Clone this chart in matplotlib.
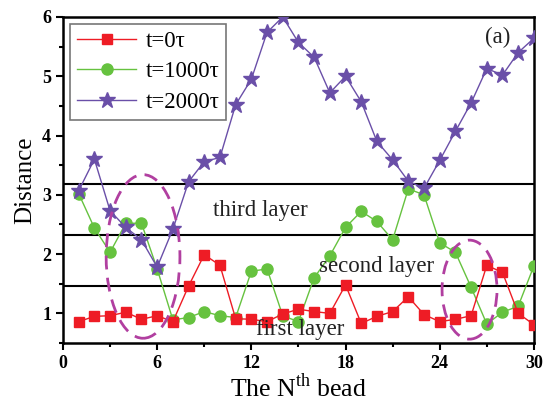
import matplotlib.pyplot as plt
from matplotlib.patches import Ellipse
from matplotlib.ticker import MultipleLocator

plt.rcParams['font.family'] = ['Liberation Serif', 'DejaVu Serif']
plt.rcParams['mathtext.fontset'] = 'custom'
plt.rcParams['mathtext.rm'] = 'Liberation Serif'

# ── Data ──────────────────────────────────────────────────────────
beads = list(range(1, 31))

t0 = [0.86, 0.95, 0.96, 1.02, 0.90, 0.96, 0.86, 1.46, 1.99, 1.81,
      0.91, 0.90, 0.86, 0.99, 1.07, 1.03, 1.00, 1.48, 0.83, 0.95,
      1.03, 1.28, 0.98, 0.86, 0.90, 0.96, 1.81, 1.69, 1.00, 0.81]

t1000 = [3.02, 2.44, 2.03, 2.52, 2.52, 1.75, 0.89, 0.93, 1.03, 0.96,
         0.93, 1.71, 1.75, 0.96, 0.86, 1.60, 1.97, 2.45, 2.72, 2.55,
         2.24, 3.10, 3.00, 2.19, 2.03, 1.44, 0.82, 1.02, 1.12, 1.80]

t2000 = [3.07, 3.60, 2.73, 2.45, 2.24, 1.78, 2.42, 3.22, 3.56, 3.63,
         4.52, 4.95, 5.74, 6.00, 5.57, 5.32, 4.72, 5.00, 4.57, 3.90,
         3.59, 3.23, 3.11, 3.58, 4.07, 4.55, 5.13, 5.02, 5.40, 5.64]

layer_bounds = [3.18, 2.33, 1.46]
layer_names = ['third layer', 'second layer', 'first layer']
layer_pos = [(12.6, 2.74), (20.0, 1.79), (15.1, 0.73)]

# ── Figure ────────────────────────────────────────────────────────
fig = plt.figure(figsize=(5.45, 4.04), dpi=100)
ax = fig.add_axes([0.1156, 0.151, 0.864, 0.807])

ax.plot(beads, t0, color='#ee1c25', lw=1, marker='s', ms=7.5,
        label='t=0τ', zorder=4)
ax.plot(beads, t1000, color='#66c23f', lw=1, marker='o', ms=8,
        label='t=1000τ', zorder=3)
ax.plot(beads, t2000, color='#6a4fa8', lw=1, marker='*', ms=12,
        label='t=2000τ', zorder=5)

for yb in layer_bounds:
    ax.axhline(yb, color='black', lw=1.5, zorder=2)

for name, (xp, yp) in zip(layer_names, layer_pos):
    ax.text(xp, yp, name, fontsize=16.5, ha='center', va='center',
            color='#222222', zorder=6)

ax.text(27.7, 5.65, '(a)', fontsize=16.5, ha='center', va='center',
        color='#222222')

# dashed ellipses marking regions
ax.add_patch(Ellipse((5.1, 1.96), 4.7, 2.76, fill=False, ec='#b13fa0',
                     lw=2, ls=(0, (5, 3)), zorder=6))
ax.add_patch(Ellipse((25.9, 1.40), 3.5, 1.67, fill=False, ec='#b13fa0',
                     lw=2, ls=(0, (5, 3)), zorder=6))

ax.set_xlim(0, 30)
ax.set_ylim(0.5, 6)
ax.xaxis.set_major_locator(MultipleLocator(6))
ax.xaxis.set_minor_locator(MultipleLocator(3))
ax.yaxis.set_major_locator(MultipleLocator(1))
ax.yaxis.set_minor_locator(MultipleLocator(0.5))
ax.tick_params(which='major', direction='out', length=5, width=1.5,
               labelsize=13)
ax.tick_params(which='minor', direction='out', length=3, width=1.5)
for lab in ax.get_xticklabels() + ax.get_yticklabels():
    lab.set_fontweight('bold')
for sp in ax.spines.values():
    sp.set_linewidth(1.8)

ax.set_xlabel(r'The N$^{\mathrm{th}}$ bead', fontsize=18.5, labelpad=1)
ax.set_ylabel('Distance', fontsize=18, labelpad=4)

leg = ax.legend(loc='upper left', fontsize=16.5, frameon=True, fancybox=False,
                edgecolor='#555555', borderaxespad=0.3, handlelength=2.6,
                labelspacing=0.42, borderpad=0.3, handletextpad=0.4)
leg.get_frame().set_linewidth(1.2)

fig.savefig('out.png', dpi=100)
